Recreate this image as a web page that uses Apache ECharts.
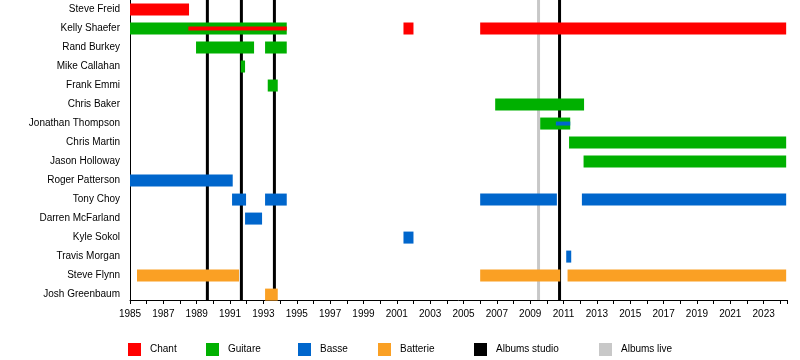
<!DOCTYPE html>
<html>
<head>
<meta charset="utf-8">
<script src="https://cdn.jsdelivr.net/npm/echarts@6/dist/echarts.min.js"></script>
<style>html,body{margin:0;padding:0;background:#fff}#c{width:800px;height:360px}</style>
</head>
<body>
<div id="c"></div>
<script>
const members = ['Steve Freid','Kelly Shaefer','Rand Burkey','Mike Callahan','Frank Emmi','Chris Baker','Jonathan Thompson','Chris Martin','Jason Holloway','Roger Patterson','Tony Choy','Darren McFarland','Kyle Sokol','Travis Morgan','Steve Flynn','Josh Greenbaum'];
const chant = [['Steve Freid',1985.0,1988.54],['Kelly Shaefer',2001.4,2002.0],['Kelly Shaefer',2006.0,2024.35]];
const chantSecondary = [['Kelly Shaefer',1988.5,1994.4]];
const guitare = [['Kelly Shaefer',1985.0,1994.4],['Rand Burkey',1988.96,1992.44],['Rand Burkey',1993.1,1994.4],['Mike Callahan',1991.64,1991.9],['Frank Emmi',1993.26,1993.86],['Chris Baker',2006.9,2012.23],['Jonathan Thompson',2009.6,2011.4],['Chris Martin',2011.33,2024.35],['Jason Holloway',2012.2,2024.35]];
const basse = [['Roger Patterson',1985.0,1991.16],['Tony Choy',1991.12,1991.96],['Tony Choy',1993.1,1994.4],['Tony Choy',2006.0,2010.6],['Tony Choy',2012.1,2024.35],['Darren McFarland',1991.9,1992.92],['Kyle Sokol',2001.4,2002.0],['Travis Morgan',2011.16,2011.46]];
const basseSecondary = [['Jonathan Thompson',2010.54,2011.4]];
const batterie = [['Steve Flynn',1985.42,1991.54],['Steve Flynn',2006.0,2010.8],['Steve Flynn',2011.24,2024.35],['Josh Greenbaum',1993.1,1993.86]];
const albumsStudio = [1989.64, 1991.68, 1993.66, 2010.76];
const albumsLive = [2009.5];
const xMin = 1985, xMax = 2024.4;

const FONT = "'Liberation Sans', Arial, sans-serif";
const colors = {Chant:'#ff0000', Guitare:'#00b000', Basse:'#0066cc', Batterie:'#faa024', 'Albums studio':'#000000', 'Albums live':'#c8c8c8'};

function barSeries(name, data, h, z) {
  return {
    type:'custom', name:name, xAxisIndex:0, yAxisIndex:0, z:z,
    itemStyle:{color:colors[name]},
    encode:{x:[1,2], y:0},
    data:data,
    renderItem:function(params, api){
      const cat = api.value(0);
      const s = api.coord([api.value(1), cat]);
      const e = api.coord([api.value(2), cat]);
      return {type:'rect', shape:{x:s[0], y:s[1]-h/2, width:e[0]-s[0], height:h}, style:{fill:api.visual('color')}};
    }
  };
}
function lineSeries(name, data) {
  return {
    type:'custom', name:name, xAxisIndex:1, yAxisIndex:1, z:1,
    itemStyle:{color:colors[name]},
    encode:{x:0, y:1},
    data:data.map(v=>[v,0]),
    renderItem:function(params, api){
      const a = api.coord([api.value(0), 0]);
      const b = api.coord([api.value(0), 1]);
      return {type:'line', shape:{x1:a[0], y1:a[1], x2:b[0], y2:b[1]}, style:{stroke:api.visual('color'), lineWidth:3}};
    }
  };
}
const legendDefs = [['Chant',128],['Guitare',206],['Basse',298],['Batterie',378],['Albums studio',474],['Albums live',599]];

const chart = echarts.init(document.getElementById('c'), null, {renderer:'canvas'});
chart.setOption({
  animation:false,
  textStyle:{fontFamily:FONT},
  grid:[{left:130, right:13, top:-2.8, height:306.9},{left:130, right:13, top:0, height:300}],
  xAxis:[
    {gridIndex:0, type:'value', min:xMin, max:xMax, show:false},
    {gridIndex:1, type:'value', min:xMin, max:xMax, interval:1,
     axisLine:{show:true, lineStyle:{color:'#000', width:1}},
     axisTick:{show:true, length:4, lineStyle:{color:'#000'}},
     splitLine:{show:false},
     axisLabel:{fontSize:10, color:'#000', margin:9, fontFamily:FONT,
       formatter:function(v){ return (Number.isInteger(v) && (v-1985)%2===0) ? String(v) : ''; }}}
  ],
  yAxis:[
    {gridIndex:0, type:'category', inverse:true, data:members,
     axisLine:{show:false}, axisTick:{show:false}, splitLine:{show:false},
     axisLabel:{fontSize:10, color:'#000', margin:10, fontFamily:FONT}},
    {gridIndex:1, type:'value', min:0, max:1,
     axisLine:{show:true, lineStyle:{color:'#000', width:1}}, axisTick:{show:false},
     axisLabel:{show:false}, splitLine:{show:false}}
  ],
  legend: legendDefs.map(d=>({data:[d[0]], left:d[1], top:343, icon:'rect', itemWidth:13, itemHeight:13, selectedMode:false, padding:0,
    textStyle:{fontSize:10, color:'#000', fontFamily:FONT, padding:[0,0,0,4]}})),
  series:[
    lineSeries('Albums live', albumsLive),
    lineSeries('Albums studio', albumsStudio),
    barSeries('Guitare', guitare, 12, 2),
    barSeries('Chant', chant, 12, 2),
    barSeries('Basse', basse, 12, 2),
    barSeries('Batterie', batterie, 12, 2),
    barSeries('Chant', chantSecondary, 4, 3),
    barSeries('Basse', basseSecondary, 4, 3)
  ]
});
</script>
</body>
</html>
